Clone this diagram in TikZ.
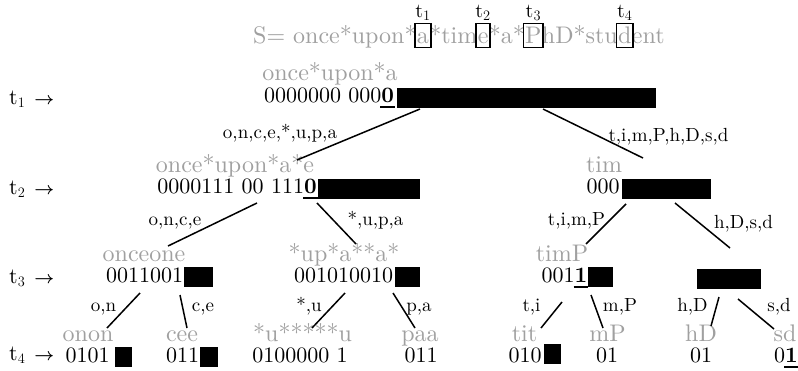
\documentclass[tikz,border=0pt]{standalone}
\usepackage{fontspec}
\setmainfont{lmroman10-regular.otf}[BoldFont=lmroman10-bold.otf]
\usetikzlibrary{calc,positioning,fit}
\definecolor{lg}{RGB}{160,160,160}
\newcommand\ulb[1]{\setbox0\hbox{\textbf{#1}}\leavevmode\rlap{\hbox to \wd0{\hss\rule[-6pt]{\dimexpr\wd0+2pt\relax}{1.8pt}\hss}}\box0}
\newcommand\rarr{{\fontsize{19}{22}\selectfont\boldmath$\rightarrow$}}
\tikzset{
  gl/.style={text=lg, font=\fontsize{24}{26}\selectfont, inner sep=0pt, anchor=base},
  dg/.style={font=\fontsize{22}{24}\selectfont, inner sep=0pt, anchor=base},
  el/.style={font=\fontsize{19}{21}\selectfont, inner sep=0pt, anchor=base},
  blk/.style={fill=black, draw=none, inner sep=0pt, minimum height=20pt, anchor=north west},
  edge/.style={line width=1.5pt},
  hd/.style={text=lg, font=\fontsize{24}{26}\selectfont, inner sep=0pt, anchor=base west},
  hbox/.style={draw=black, line width=1.7pt, inner sep=0pt},
  tl/.style={font=\fontsize{20}{22}\selectfont, inner sep=0pt},
  rl/.style={font=\fontsize{22}{24}\selectfont, inner sep=0pt, anchor=base west},
}
\begin{document}
\begin{tikzpicture}[x=1pt,y=-1pt]
\useasboundingbox (0,0) rectangle (798,370);
% header
\node[hd] (h0) at (253,43) {S= once*upon*};
\node[hd] (ha) at (h0.base east) {a};
\node[hd] (h1) at (ha.base east) {*tim};
\node[hd] (he) at (h1.base east) {e};
\node[hd] (h2) at (he.base east) {*a*};
\node[hd] (hP) at (h2.base east) {P};
\node[hd] (h3) at (hP.base east) {hD*stu};
\node[hd] (hdd) at (h3.base east) {d};
\node[hd] (h4) at (hdd.base east) {ent};
\node[hbox, fit={($(ha.base west)+(-1.5,-19.5)$) ($(ha.base east)+(1.5,4.5)$)}] (ba) {};
\node[hbox, fit={($(he.base west)+(-1.5,-19.5)$) ($(he.base east)+(1.5,4.5)$)}] (be) {};
\node[hbox, fit={($(hP.base west)+(-1.5,-19.5)$) ($(hP.base east)+(1.5,4.5)$)}] (bP) {};
\node[hbox, fit={($(hdd.base west)+(-1.5,-19.5)$) ($(hdd.base east)+(1.5,4.5)$)}] (bd) {};
\node[tl, above=2pt of ba] (tt1) {$\mathrm{t}_1$};
\node[tl, above=2pt of be] (tt2) {$\mathrm{t}_2$};
\node[tl, above=2pt of bP] (tt3) {$\mathrm{t}_3$};
\node[tl, above=2pt of bd] (tt4) {$\mathrm{t}_4$};
% row labels
\node[rl] (r1) at (9,104) {$\mathrm{t}_1$\hspace{9pt}\rarr};
\node[rl] (r2) at (9,194) {$\mathrm{t}_2$\hspace{9pt}\rarr};
\node[rl] (r3) at (9,283) {$\mathrm{t}_3$\hspace{9pt}\rarr};
\node[rl] (r4) at (9,360) {$\mathrm{t}_4$\hspace{9pt}\rarr};
% row 1
\node[gl] (g1) at (330,80) {once*upon*a};
\node[dg] (d1) at (329,102) {0000000 000\ulb{0}};
\node[blk, minimum width=259pt] (b1) at (397,88) {};
% row 2
\node[gl] (g2) at (235,172) {once*upon*a*e};
\node[dg] (d2) at (237,193) {0000111 00 111\ulb{0}};
\node[blk, minimum width=102pt] (b2) at (318,179) {};
\node[gl] (g3) at (604,172) {tim};
\node[dg] (d3) at (603,193) {000};
\node[blk, minimum width=89pt] (b3) at (622,179) {};
% row 3
\node[gl] (g4) at (144,261) {onceone};
\node[dg] (d4) at (144.5,282) {0011001};
\node[blk, minimum width=29pt] (b4) at (184,267) {};
\node[gl] (g5) at (344,261) {*up*a**a*};
\node[dg] (d5) at (343.5,282) {001010010};
\node[blk, minimum width=25pt] (b5) at (395,267) {};
\node[gl] (g6) at (562,261) {timP};
\node[dg] (d6) at (564.5,282) {001\ulb{1}};
\node[blk, minimum width=25pt] (b6) at (588,267) {};
\node[blk, minimum width=64pt] (b7) at (697,269) {};
% row 4
\node[gl] (g8) at (88,341) {onon};
\node[dg] (d8) at (87.5,362) {0101};
\node[blk, minimum width=17pt] (b8) at (115,347) {};
\node[gl] (g9) at (182,341) {cee};
\node[dg] (d9) at (182.5,362) {011};
\node[blk, minimum width=18pt] (b9) at (200,347) {};
\node[gl] (g10) at (302.5,341) {*u*****u};
\node[dg] (d10) at (300,362) {0100000 1};
\node[gl] (g11) at (420,341) {paa};
\node[dg] (d11) at (421,362) {011};
\node[gl] (g12) at (524.5,341) {tit};
\node[dg] (d12) at (525,362) {010};
\node[blk, minimum width=17pt] (b12) at (544,344) {};
\node[gl] (g13) at (607.5,341) {mP};
\node[dg] (d13) at (607,362) {01};
\node[gl] (g14) at (701,341) {hD};
\node[dg] (d14) at (701,362) {01};
\node[gl] (g15) at (785,341) {sd};
\node[dg] (d15) at (786,362) {0\ulb{1}};
% edge end points
\coordinate (e1a) at (420,109); \coordinate (e1b) at (297,160);
\coordinate (e2a) at (543,109); \coordinate (e2b) at (643,158);
\coordinate (e3a) at (257,203); \coordinate (e3b) at (168,246);
\coordinate (e4a) at (317,203); \coordinate (e4b) at (356,244);
\coordinate (e5a) at (626,204); \coordinate (e5b) at (586,244);
\coordinate (e6a) at (675,203); \coordinate (e6b) at (730,248);
\coordinate (e7a) at (140,293); \coordinate (e7b) at (107,328);
\coordinate (e8a) at (180,295); \coordinate (e8b) at (187,328);
\coordinate (e9a) at (345,293); \coordinate (e9b) at (312,328);
\coordinate (e10a) at (393,293); \coordinate (e10b) at (415,328);
\coordinate (e11a) at (562,302); \coordinate (e11b) at (541,328);
\coordinate (e12a) at (591,295); \coordinate (e12b) at (603,328);
\coordinate (e13a) at (719,297); \coordinate (e13b) at (711,326);
\coordinate (e14a) at (738,299); \coordinate (e14b) at (774,329);
\foreach \i in {1,...,14} {\draw[edge] (e\i a) -- (e\i b);}
% edge labels
\node[el] (l1) at (280,138) {o,n,c,e,*,u,p,a};
\node[el] (l2) at (668.5,141) {t,i,m,P,h,D,s,d};
\node[el] (l3) at (175,225) {o,n,c,e};
\node[el] (l4) at (375.5,225) {*,u,p,a};
\node[el] (l5) at (576.5,225) {t,i,m,P};
\node[el] (l6) at (743.5,228) {h,D,s,d};
\node[el] (l7) at (103.5,311) {o,n};
\node[el] (l8) at (203,311) {c,e};
\node[el] (l9) at (309,311) {*,u};
\node[el] (l10) at (419,311) {p,a};
\node[el] (l11) at (531.5,311) {t,i};
\node[el] (l12) at (620,311) {m,P};
\node[el] (l13) at (692.5,311) {h,D};
\node[el] (l14) at (779,311) {s,d};
\end{tikzpicture}
\end{document}
